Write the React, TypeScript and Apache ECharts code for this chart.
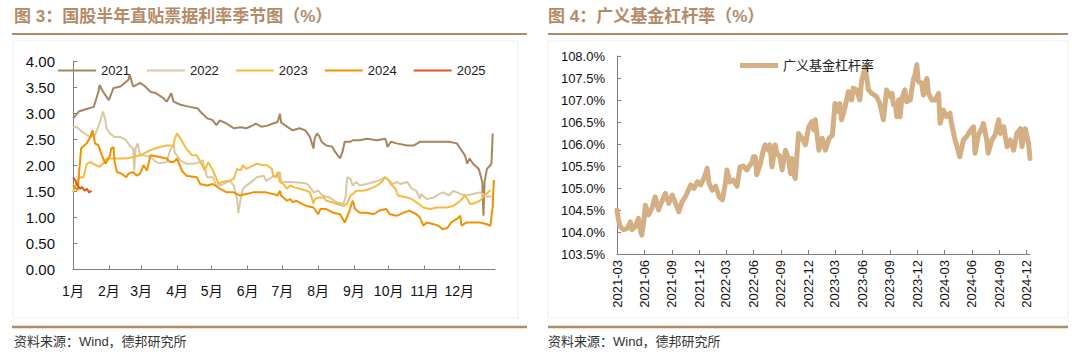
import React, { useEffect, useRef } from 'react';
import * as echarts from 'echarts';

// ---------- Left chart: 国股半年直贴票据利率季节图 ----------
const seasonYears = ['2021', '2022', '2023', '2024', '2025'];
const seasonColors = ['#A7855F', '#D9C8A2', '#F7BA3E', '#F29100', '#E2561E'];
const monthLabels = ['1月', '2月', '3月', '4月', '5月', '6月', '7月', '8月', '9月', '10月', '11月', '12月'];
const monthStartDays = [0, 31, 59, 90, 120, 151, 181, 212, 243, 273, 304, 334];
const rateTicks = [0, 0.5, 1, 1.5, 2, 2.5, 3, 3.5, 4];

// [day of year, rate %]
const rate2021: [number, number][] = [
  [0, 2.9], [5, 3.03], [9, 3.06], [13, 3.09], [18, 3.12], [22, 3.41], [23, 3.54], [26, 3.41], [31, 3.25], [35, 3.48],
  [41, 3.51], [48, 3.64], [49, 3.74], [52, 3.51], [58, 3.58], [62, 3.52], [67, 3.41], [72, 3.38], [78, 3.29], [81, 3.22],
  [85, 3.38], [87, 3.22], [93, 3.16], [101, 3.12], [108, 3.09], [110, 3.03], [116, 2.9], [119, 2.88], [121, 2.86], [124, 2.77],
  [127, 2.86], [133, 2.8], [139, 2.71], [145, 2.73], [150, 2.71], [156, 2.77], [158, 2.8], [163, 2.74], [168, 2.76], [173, 2.8],
  [177, 2.83], [179, 2.99], [180, 2.82], [185, 2.74], [190, 2.67], [196, 2.71], [201, 2.67], [205, 2.54], [208, 2.32], [209, 2.51],
  [211, 2.61], [213, 2.56], [215, 2.45], [219, 2.38], [224, 2.36], [227, 2.25], [231, 2.13], [233, 2.25], [235, 2.45], [240, 2.45],
  [242, 2.48], [248, 2.48], [254, 2.51], [263, 2.48], [270, 2.51], [271, 2.45], [272, 2.35], [275, 2.45], [280, 2.42], [289, 2.38],
  [295, 2.38], [300, 2.45], [308, 2.45], [316, 2.45], [325, 2.45], [332, 2.42], [335, 2.32], [339, 2.19], [341, 2.03], [343, 2.13],
  [346, 2.03], [351, 1.93], [354, 1.68], [355, 1.03], [356, 1.68], [358, 1.93], [361, 2.0], [362, 2.05], [363, 2.61],
];
const rate2022: [number, number][] = [
  [0, 2.71], [3, 2.74], [8, 2.64], [12, 2.58], [15, 2.54], [19, 2.58], [22, 2.74], [25, 2.96], [26, 3.03], [28, 2.86],
  [29, 2.71], [32, 2.61], [36, 2.54], [41, 2.54], [46, 2.48], [49, 2.38], [52, 2.32], [53, 1.9], [54, 2.32], [56, 2.42],
  [58, 2.19], [61, 2.19], [67, 2.16], [72, 2.06], [75, 2.04], [81, 2.06], [84, 2.29], [87, 2.38], [88, 2.25], [93, 2.09],
  [98, 2.03], [104, 2.03], [110, 2.06], [112, 2.1], [114, 1.93], [116, 1.77], [121, 1.77], [124, 1.61], [127, 1.61], [133, 1.67],
  [136, 1.7], [139, 1.61], [142, 1.35], [143, 1.08], [145, 1.35], [147, 1.55], [150, 1.61], [156, 1.71], [159, 1.77], [165, 1.8],
  [167, 1.7], [172, 1.77], [176, 1.8], [179, 1.87], [180, 1.68], [190, 1.68], [202, 1.65], [205, 1.58], [208, 1.48], [212, 1.51],
  [216, 1.42], [222, 1.38], [228, 1.29], [234, 1.26], [236, 1.42], [237, 1.77], [240, 1.74], [242, 1.61], [245, 1.68], [248, 1.61],
  [254, 1.64], [260, 1.68], [265, 1.71], [270, 1.77], [273, 1.71], [277, 1.64], [280, 1.68], [283, 1.64], [289, 1.68], [293, 1.55],
  [297, 1.51], [300, 1.35], [301, 1.45], [306, 1.35], [312, 1.38], [317, 1.45], [320, 1.48], [325, 1.42], [329, 1.51], [335, 1.45],
  [340, 1.42], [346, 1.45], [352, 1.48], [358, 1.4], [362, 1.4],
];
const rate2023: [number, number][] = [
  [0, 1.48], [2, 1.61], [6, 1.77], [9, 1.77], [12, 2.03], [15, 2.06], [20, 2.0], [23, 1.97], [26, 2.03], [29, 2.13],
  [38, 2.13], [46, 2.13], [52, 2.16], [58, 2.19], [67, 2.29], [75, 2.35], [81, 2.38], [87, 2.38], [88, 2.51], [90, 2.61],
  [93, 2.51], [98, 2.32], [103, 2.19], [107, 2.19], [111, 2.03], [114, 1.9], [117, 2.06], [121, 1.9], [126, 1.64], [129, 1.68],
  [136, 1.71], [139, 1.74], [142, 1.93], [145, 1.9], [147, 2.0], [150, 1.93], [159, 2.03], [165, 2.0], [168, 2.0], [172, 1.93],
  [173, 1.8], [176, 1.77], [177, 1.87], [179, 1.68], [182, 1.64], [185, 1.55], [188, 1.61], [191, 1.58], [196, 1.55], [202, 1.51],
  [205, 1.48], [208, 1.26], [209, 1.35], [212, 1.38], [217, 1.38], [219, 1.32], [224, 1.29], [228, 1.26], [234, 1.22], [237, 1.26],
  [240, 1.42], [242, 1.45], [245, 1.51], [251, 1.51], [257, 1.55], [263, 1.61], [267, 1.68], [270, 1.77], [273, 1.71], [276, 1.61],
  [279, 1.55], [281, 1.42], [289, 1.38], [293, 1.35], [297, 1.29], [303, 1.19], [309, 1.16], [315, 1.19], [323, 1.19], [329, 1.22],
  [335, 1.32], [339, 1.42], [342, 1.32], [343, 1.26], [346, 1.26], [352, 1.32], [356, 1.42], [361, 1.52],
];
const rate2024: [number, number][] = [
  [0, 1.62], [4, 1.52], [7, 2.32], [12, 2.42], [15, 2.54], [17, 2.67], [19, 2.42], [22, 2.38], [25, 2.19], [28, 2.03],
  [29, 2.06], [32, 2.19], [33, 2.32], [35, 2.35], [36, 2.06], [38, 1.87], [42, 1.84], [46, 1.77], [48, 1.84], [52, 1.87],
  [55, 1.8], [58, 1.84], [61, 2.0], [64, 1.9], [67, 2.19], [75, 2.16], [81, 2.13], [84, 2.06], [87, 2.06], [90, 2.13],
  [94, 1.9], [98, 1.8], [107, 1.77], [110, 1.64], [116, 1.61], [121, 1.64], [127, 1.55], [133, 1.48], [139, 1.48], [144, 1.42],
  [150, 1.45], [156, 1.48], [167, 1.48], [173, 1.45], [177, 1.42], [179, 1.51], [180, 1.42], [185, 1.32], [188, 1.35], [190, 1.29],
  [193, 1.32], [198, 1.26], [202, 1.22], [208, 1.19], [212, 1.06], [214, 1.16], [219, 1.16], [225, 1.09], [231, 1.06], [235, 0.9],
  [238, 1.06], [242, 1.32], [244, 1.16], [248, 1.09], [254, 1.09], [260, 1.06], [265, 1.13], [271, 1.16], [274, 1.06], [280, 1.03],
  [286, 1.09], [291, 1.13], [297, 1.06], [300, 1.0], [303, 0.84], [306, 0.9], [312, 0.87], [316, 0.84], [320, 0.77], [324, 0.8],
  [327, 0.9], [332, 0.97], [335, 1.03], [336, 0.84], [340, 0.9], [346, 0.9], [352, 0.9], [358, 0.87], [361, 0.84], [363, 1.2],
  [364, 1.72],
];
const rate2025: [number, number][] = [
  [0, 1.77], [2, 1.71], [4, 1.61], [6, 1.55], [8, 1.58], [10, 1.51], [12, 1.55], [14, 1.48], [16, 1.51],
];
const seasonData = [rate2021, rate2022, rate2023, rate2024, rate2025];

// ---------- Right chart: 广义基金杠杆率 ----------
const leverageName = '广义基金杠杆率';
const quarterTicks = [
  '2021-03-01', '2021-06-01', '2021-09-01', '2021-12-01', '2022-03-01', '2022-06-01', '2022-09-01', '2022-12-01',
  '2023-03-01', '2023-06-01', '2023-09-01', '2023-12-01', '2024-03-01', '2024-06-01', '2024-09-01', '2024-12-01',
];
const leverageDates = [
  '2021-03-01', '2021-03-06', '2021-03-12', '2021-03-23', '2021-04-04', '2021-04-15', '2021-04-20', '2021-05-01', '2021-05-12', '2021-05-18',
  '2021-05-23', '2021-05-29', '2021-06-04', '2021-06-10', '2021-06-15', '2021-06-26', '2021-07-07', '2021-07-18', '2021-07-29', '2021-08-10',
  '2021-08-21', '2021-09-02', '2021-09-13', '2021-09-24', '2021-10-05', '2021-10-16', '2021-11-03', '2021-11-14', '2021-11-25', '2021-12-06',
  '2021-12-17', '2021-12-28', '2022-01-03', '2022-01-14', '2022-01-25', '2022-02-06', '2022-02-17', '2022-02-27', '2022-03-04', '2022-03-14',
  '2022-03-25', '2022-04-07', '2022-04-17', '2022-04-28', '2022-05-10', '2022-05-20', '2022-05-26', '2022-06-01', '2022-06-07', '2022-06-12',
  '2022-06-23', '2022-07-04', '2022-07-10', '2022-07-21', '2022-07-26', '2022-08-02', '2022-08-13', '2022-08-18', '2022-08-29', '2022-09-05',
  '2022-09-16', '2022-09-27', '2022-10-03', '2022-10-08', '2022-10-13', '2022-10-19', '2022-10-30', '2022-11-11', '2022-11-22', '2022-12-03',
  '2022-12-14', '2022-12-20', '2022-12-25', '2023-01-06', '2023-01-17', '2023-01-22', '2023-01-28', '2023-02-09', '2023-02-20', '2023-03-01',
  '2023-03-06', '2023-03-17', '2023-03-23', '2023-04-04', '2023-04-15', '2023-04-26', '2023-05-01', '2023-05-12', '2023-05-23', '2023-05-29',
  '2023-06-10', '2023-06-21', '2023-07-02', '2023-07-18', '2023-07-29', '2023-08-10', '2023-08-21', '2023-09-02', '2023-09-08', '2023-09-13',
  '2023-09-19', '2023-09-24', '2023-09-30', '2023-10-05', '2023-10-11', '2023-10-21', '2023-10-27', '2023-11-08', '2023-11-19', '2023-11-24',
  '2023-11-30', '2023-12-05', '2023-12-16', '2023-12-22', '2023-12-27', '2024-01-03', '2024-01-08', '2024-01-19', '2024-01-30', '2024-02-11',
  '2024-02-16', '2024-02-27', '2024-03-09', '2024-03-20', '2024-03-25', '2024-04-06', '2024-04-11', '2024-04-22', '2024-05-04', '2024-05-15',
  '2024-05-25', '2024-06-07', '2024-06-12', '2024-06-23', '2024-07-04', '2024-07-10', '2024-07-21', '2024-07-26', '2024-08-07', '2024-08-18',
  '2024-08-30', '2024-09-05', '2024-09-16', '2024-09-27', '2024-10-08', '2024-10-19', '2024-10-30', '2024-11-11', '2024-11-16', '2024-11-27',
  '2024-12-08', '2024-12-13',
];
const leverageValues = [
  104.5, 104.27, 104.12, 104.05, 104.08, 104.23, 104.05, 104.12, 104.31, 104.05,
  103.93, 104.2, 104.61, 104.5, 104.39, 104.54, 104.8, 104.5, 104.69, 104.88,
  104.65, 104.84, 104.65, 104.46, 104.69, 104.8, 105.07, 104.99, 105.14, 105.07,
  105.22, 105.45, 105.11, 104.95, 105.04, 104.8, 104.73, 105.11, 105.41, 105.14,
  105.18, 105.04, 105.48, 105.5, 105.41, 105.52, 105.56, 105.71, 105.71, 105.3,
  105.52, 105.86, 105.98, 105.86, 105.98, 105.48, 105.98, 105.79, 105.71, 105.41,
  105.86, 105.64, 105.33, 105.67, 105.33, 105.22, 106.24, 106.13, 105.98, 106.39,
  106.51, 106.32, 106.55, 105.86, 106.13, 106.02, 105.86, 106.13, 106.2, 106.92,
  106.73, 106.92, 106.55, 106.85, 107.19, 107.0, 107.27, 107.23, 107.0, 107.42,
  107.76, 107.23, 107.15, 107.08, 106.92, 106.55, 107.23, 107.08, 107.15, 106.89,
  106.92, 106.62, 107.0, 106.62, 107.04, 107.23, 106.96, 107.0, 107.49, 107.57,
  107.8, 107.42, 107.38, 107.11, 107.38, 107.49, 107.15, 107.0, 107.0, 107.15,
  106.47, 106.77, 106.62, 106.7, 106.47, 106.09, 105.98, 105.71, 106.09, 106.17,
  106.28, 106.39, 105.79, 106.2, 106.35, 106.47, 106.09, 105.79, 106.09, 106.2,
  106.55, 106.24, 106.39, 105.94, 106.09, 105.86, 106.24, 106.35, 105.94, 106.35,
  106.02, 105.67,
];

const titleLeft = '图 3：国股半年直贴票据利率季节图（%）';
const titleRight = '图 4：广义基金杠杆率（%）';
const sourceText = '资料来源：Wind，德邦研究所';

const DAY = 86400000;
const utc = (s: string) => {
  const [y, m, d] = s.split('-').map(Number);
  return Date.UTC(y, m - 1, d);
};
const baseDay = utc(quarterTicks[0]);
const dayOffset = (s: string) => Math.round((utc(s) - baseDay) / DAY);

const FONT = "'Liberation Sans', Arial, 'Noto Sans CJK SC', sans-serif";
const CJK = "'Liberation Sans', 'Noto Sans CJK SC', sans-serif";
const BROWN = '#B38B68';
const AXIS = '#7f7f7f';

export default function App() {
  const ref = useRef<HTMLDivElement>(null);

  useEffect(() => {
    if (!ref.current) return;
    const chart = echarts.init(ref.current, undefined, { renderer: 'svg' });
    const quarterOffsets = quarterTicks.map(dayOffset);
    const quarterLabels = quarterTicks.map((s) => s.slice(0, 7));

    const option: any = {
      animation: false,
      backgroundColor: '#ffffff',
      textStyle: { fontFamily: FONT },
      grid: [
        { left: 73, top: 61, width: 422, height: 208.5 },
        { left: 617, top: 56, width: 413, height: 198 },
      ],
      legend: [
        {
          data: seasonYears,
          left: 53,
          top: 59,
          icon: 'rect',
          itemWidth: 38,
          itemHeight: 2,
          itemGap: 17,
          textStyle: { fontSize: 13, color: '#222', fontFamily: FONT },
        },
        {
          data: [leverageName],
          left: 735,
          top: 54,
          icon: 'rect',
          itemWidth: 38,
          itemHeight: 5,
          textStyle: { fontSize: 13, color: '#222', fontFamily: CJK },
        },
      ],
      xAxis: [
        {
          type: 'value',
          gridIndex: 0,
          min: 0,
          max: 365,
          axisLine: { show: true, lineStyle: { color: AXIS, width: 1 } },
          axisTick: { show: true, inside: true, length: 4, customValues: monthStartDays, lineStyle: { color: AXIS } },
          axisLabel: {
            customValues: monthStartDays,
            formatter: (v: number) => {
              const i = monthStartDays.indexOf(Math.round(v));
              return i >= 0 ? monthLabels[i] : '';
            },
            fontSize: 14,
            color: '#111',
            margin: 14,
            fontFamily: FONT,
          },
          splitLine: { show: false },
        },
        {
          type: 'value',
          gridIndex: 1,
          min: 0,
          max: dayOffset(leverageDates[leverageDates.length - 1]),
          axisLine: { show: true, lineStyle: { color: AXIS, width: 1 } },
          axisTick: { show: true, inside: true, length: 4, customValues: quarterOffsets, lineStyle: { color: AXIS } },
          axisLabel: {
            customValues: quarterOffsets,
            formatter: (v: number) => {
              const i = quarterOffsets.indexOf(Math.round(v));
              return i >= 0 ? quarterLabels[i] : '';
            },
            rotate: 90,
            fontSize: 13,
            color: '#111',
            margin: 6,
            fontFamily: FONT,
          },
          splitLine: { show: false },
        },
      ],
      yAxis: [
        {
          type: 'value',
          gridIndex: 0,
          min: rateTicks[0],
          max: rateTicks[rateTicks.length - 1],
          interval: 0.5,
          axisLine: { show: true, lineStyle: { color: AXIS, width: 1 } },
          axisTick: { show: true, inside: true, length: 4, lineStyle: { color: AXIS } },
          axisLabel: {
            formatter: (v: number) => v.toFixed(2),
            fontSize: 15,
            color: '#111',
            margin: 18,
            fontFamily: FONT,
          },
          splitLine: { show: false },
        },
        {
          type: 'value',
          gridIndex: 1,
          min: 103.5,
          max: 108,
          interval: 0.5,
          axisLine: { show: true, lineStyle: { color: AXIS, width: 1 } },
          axisTick: { show: true, inside: true, length: 4, lineStyle: { color: AXIS } },
          axisLabel: {
            formatter: (v: number) => v.toFixed(1) + '%',
            fontSize: 13,
            color: '#111',
            margin: 12,
            fontFamily: FONT,
          },
          splitLine: { show: false },
        },
      ],
      series: [
        ...seasonYears.map((name, i) => ({
          name,
          type: 'line',
          xAxisIndex: 0,
          yAxisIndex: 0,
          data: seasonData[i],
          symbol: 'none',
          showSymbol: false,
          color: seasonColors[i],
          lineStyle: { width: 2, color: seasonColors[i] },
          z: 2 + i,
        })),
        {
          name: leverageName,
          type: 'line',
          xAxisIndex: 1,
          yAxisIndex: 1,
          data: leverageDates.map((d, i) => [dayOffset(d), leverageValues[i]]),
          symbol: 'none',
          showSymbol: false,
          color: '#D5AF84',
          lineStyle: { width: 5, color: '#D5AF84', join: 'round', cap: 'round' },
        },
      ],
      graphic: [
        { type: 'rect', shape: { x: 13, y: 41, width: 505, height: 277 }, style: { fill: 'none', stroke: '#efefef', lineWidth: 1 }, silent: true, z: -1 },
        { type: 'rect', shape: { x: 548, y: 41, width: 520, height: 277 }, style: { fill: 'none', stroke: '#efefef', lineWidth: 1 }, silent: true, z: -1 },
        { type: 'text', left: 14, top: 8, style: { text: titleLeft, fill: BROWN, font: `bold 17px ${CJK}` } },
        { type: 'text', left: 548, top: 8, style: { text: titleRight, fill: BROWN, font: `bold 17px ${CJK}` } },
        { type: 'line', shape: { x1: 12, y1: 34, x2: 527, y2: 34 }, style: { stroke: BROWN, lineWidth: 2 } },
        { type: 'line', shape: { x1: 548, y1: 34, x2: 1068, y2: 34 }, style: { stroke: BROWN, lineWidth: 2 } },
        { type: 'line', shape: { x1: 12, y1: 327, x2: 527, y2: 327 }, style: { stroke: BROWN, lineWidth: 2.5 } },
        { type: 'line', shape: { x1: 548, y1: 327, x2: 1068, y2: 327 }, style: { stroke: BROWN, lineWidth: 2.5 } },
        { type: 'text', left: 14, top: 335, style: { text: sourceText, fill: '#333', font: `13px ${CJK}` } },
        { type: 'text', left: 548, top: 335, style: { text: sourceText, fill: '#333', font: `13px ${CJK}` } },
      ],
    };

    chart.setOption(option);
    return () => chart.dispose();
  }, []);

  return (
    <div
      ref={ref}
      style={{ position: 'absolute', left: 0, top: 0, width: 1080, height: 355, background: '#fff' }}
    />
  );
}
